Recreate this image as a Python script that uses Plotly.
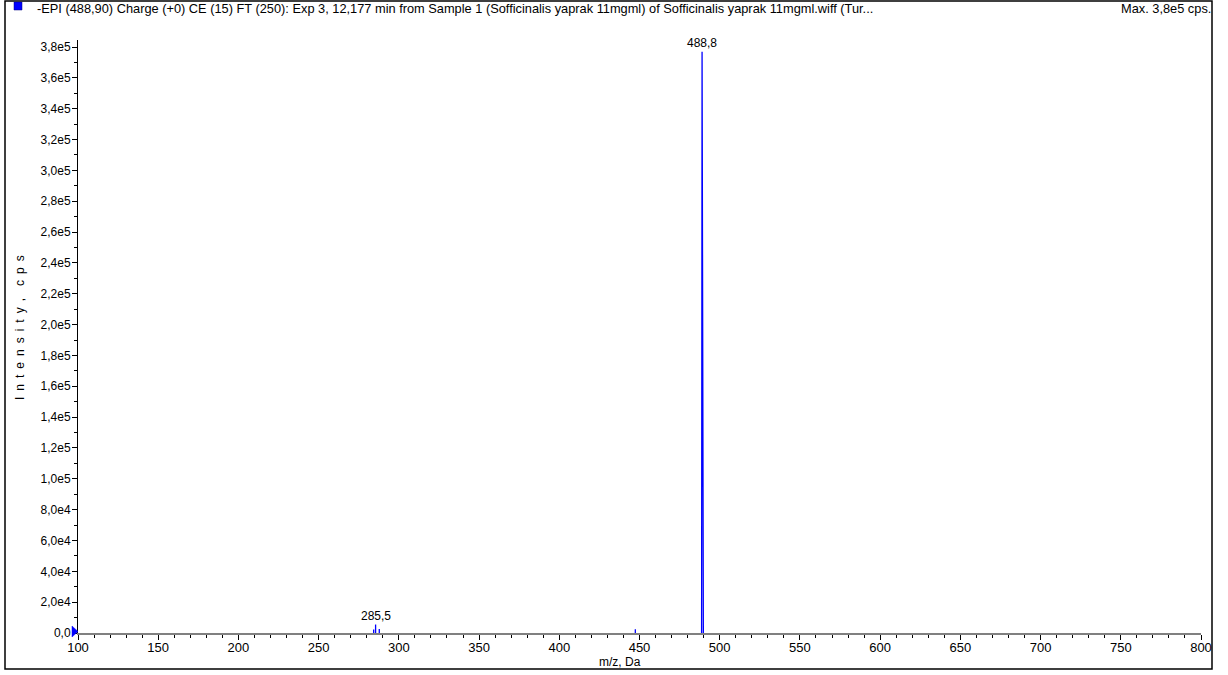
import plotly.graph_objects as go

# ---------------- data ----------------
peak_mz = [284.3, 285.5, 287.8, 447.4, 489.0]
peak_intensity = [2.2e3, 5.5e3, 2.6e3, 2.4e3, 3.77e5]
# profile shape of the base peak (m/z, intensity)
base_profile_mz = [488.7, 489.0, 489.8]
base_profile_int = [0.0, 3.77e5, 0.0]

label_mz = [285.5, 489.0]
label_int = [5.5e3, 3.77e5]
label_text = ["285,5", "488,8"]

x_tickvals = [100, 150, 200, 250, 300, 350, 400, 450, 500, 550, 600, 650, 700, 750, 800]
x_ticktext = ["100", "150", "200", "250", "300", "350", "400", "450", "500",
              "550", "600", "650", "700", "750", "800"]
y_tickvals = [0, 2e4, 4e4, 6e4, 8e4, 1e5, 1.2e5, 1.4e5, 1.6e5, 1.8e5, 2e5, 2.2e5,
              2.4e5, 2.6e5, 2.8e5, 3e5, 3.2e5, 3.4e5, 3.6e5, 3.8e5]
y_ticktext = ["0,0", "2,0e4", "4,0e4", "6,0e4", "8,0e4", "1,0e5", "1,2e5", "1,4e5",
              "1,6e5", "1,8e5", "2,0e5", "2,2e5", "2,4e5", "2,6e5", "2,8e5", "3,0e5",
              "3,2e5", "3,4e5", "3,6e5", "3,8e5"]

header_text = ("-EPI (488,90) Charge (+0) CE (15) FT (250): Exp 3, 12,177 min from Sample 1 "
               "(Sofficinalis yaprak 11mgml) of Sofficinalis yaprak 11mgml.wiff (Tur...")
max_text = "Max. 3,8e5 cps."
x_title = "m/z, Da"
y_title = "\u2002".join("Intensity,") + "\u2002\u2002" + "\u2002".join("cps")

# ---------------- layout geometry (pixels) ----------------
W, H = 1228, 675
L, R = 78, 1201      # plot area x
T, B = 40, 633       # plot area y
PW, PH = R - L, B - T
Y_TOP = 3.8e5 * (B - T) / 586.0   # 3.8e5 sits 586 px above zero

def px(x):
    return (x - L) / PW

def py(y):
    return (B - y) / PH

FONT = "Liberation Sans, Arial, sans-serif"
BLUE = "#0000ff"

# build stick/profile line from the peak arrays
xs, ys = [], []
for m, h in zip(peak_mz[:-1], peak_intensity[:-1]):
    xs += [m, m, None]
    ys += [0, h, None]
xs += base_profile_mz
ys += base_profile_int

fig = go.Figure()
fig.add_trace(go.Scatter(x=xs, y=ys, mode="lines",
                         line=dict(color=BLUE, width=1.3),
                         hoverinfo="skip", showlegend=False))

# labels above peaks
for m, h, t in zip(label_mz, label_int, label_text):
    fig.add_annotation(x=m, y=h, text=t, showarrow=False, yanchor="bottom", xanchor="center",
                       yshift=0, font=dict(family=FONT, size=12, color="black"))

fig.update_layout(
    width=W, height=H,
    margin=dict(l=L, r=W - R, t=T, b=H - B, pad=0),
    paper_bgcolor="white", plot_bgcolor="white",
    font=dict(family=FONT, size=12, color="black"),
    xaxis=dict(range=[100, 800], tickmode="array", tickvals=x_tickvals, ticktext=x_ticktext,
               ticks="outside", ticklen=5, tickcolor="black", tickwidth=1,
               showline=True, linecolor="#808080", linewidth=2, showgrid=False,
               zeroline=False, tickfont=dict(size=13), ticklabelstandoff=-4,
               minor=dict(ticks="outside", ticklen=3, tickcolor="black", dtick=10,
                          tick0=100, showgrid=False)),
    yaxis=dict(range=[0, Y_TOP], tickmode="array", tickvals=y_tickvals, ticktext=y_ticktext,
               ticks="outside", ticklen=5, tickcolor="black", tickwidth=1,
               showline=True, linecolor="black", linewidth=1, showgrid=False,
               zeroline=False, tickfont=dict(size=12), ticklabelstandoff=-1,
               minor=dict(ticks="outside", ticklen=3, tickcolor="black", dtick=1e4,
                          tick0=0, showgrid=False)),
)

# blue marker triangle at the zero level, just left of the y axis
fig.add_shape(type="path", xref="paper", yref="paper", xsizemode="pixel", ysizemode="pixel",
              xanchor=0, yanchor=0,
              path="M -6,-4 L -6,7 L 0,1.5 Z", fillcolor=BLUE,
              line=dict(color=BLUE, width=0.5), layer="above")

# axis titles
fig.add_annotation(xref="paper", yref="paper", x=px(20), y=py(328), text=y_title,
                   textangle=-90, showarrow=False, xanchor="center", yanchor="middle",
                   font=dict(size=12))
fig.add_annotation(xref="paper", yref="paper", x=px(620), y=py(662), text=x_title,
                   showarrow=False, xanchor="center", yanchor="middle", font=dict(size=12))

# header
fig.add_annotation(xref="paper", yref="paper", x=px(35), y=py(8), text=header_text,
                   xanchor="left", yanchor="middle", showarrow=False, font=dict(size=12.8))
fig.add_annotation(xref="paper", yref="paper", x=px(1213), y=py(8), text=max_text,
                   xanchor="right", yanchor="middle", showarrow=False, font=dict(size=12.8))

# outer frame and header icon
fig.add_shape(type="rect", xref="paper", yref="paper",
              x0=px(5), x1=px(1212), y0=py(669), y1=py(1),
              line=dict(color="black", width=1.5), fillcolor="rgba(0,0,0,0)", layer="above")
fig.add_shape(type="rect", xref="paper", yref="paper",
              x0=px(14), x1=px(22), y0=py(10), y1=py(2),
              line=dict(color="#000080", width=0.5), fillcolor=BLUE)

# remove the default page margin so the figure fills the window exactly
fig.write_html("out.html", config={"displayModeBar": False},
               post_script="document.body.style.margin='0';")
